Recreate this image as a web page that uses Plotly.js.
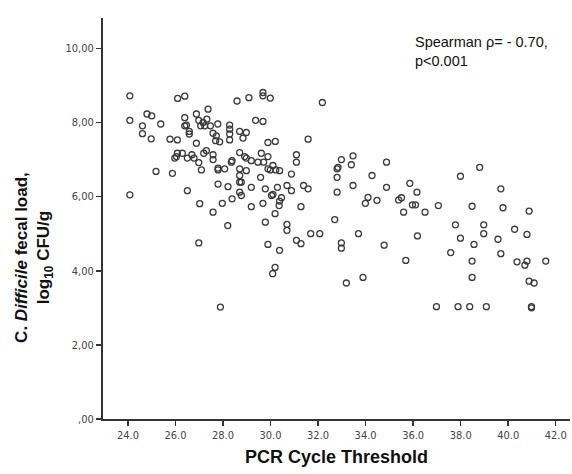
<!DOCTYPE html>
<html>
<head>
<meta charset="utf-8">
<script src="https://cdn.plot.ly/plotly-3.0.1.min.js"></script>
<style>
html,body{margin:0;padding:0;background:#fff;}
#chart{width:572px;height:474px;}
</style>
</head>
<body>
<div id="chart"></div>
<script>
// PCR cycle threshold (x) for each sample
const ctValues = [
24.08,24.08,24.08,24.80,25.00,24.61,24.61,24.98,25.38,25.18,
26.09,26.39,25.77,26.08,25.87,26.39,26.39,26.46,26.58,26.58,
26.88,26.98,27.06,27.16,27.23,27.37,27.32,26.88,27.30,27.19,
26.98,27.09,26.69,26.50,26.78,26.08,26.29,25.97,26.04,26.50,
27.47,27.78,27.58,27.72,27.69,27.86,28.59,29.09,29.68,29.68,
29.99,28.28,28.28,28.28,28.28,28.70,28.98,28.84,29.37,29.68,
29.89,30.20,31.58,27.58,27.58,27.79,27.79,28.07,28.38,28.35,
28.70,28.91,28.98,29.19,29.47,29.61,29.71,29.89,30.10,29.89,
29.99,30.22,30.38,28.70,28.98,28.70,28.70,28.77,27.79,28.21,
29.58,29.19,29.78,30.29,30.69,30.88,31.09,31.09,31.39,31.58,
28.70,28.77,28.38,30.04,30.46,30.88,
27.02,27.58,27.97,29.19,29.68,30.10,30.38,30.36,30.19,29.78,
28.20,30.69,30.69,31.28,31.69,31.09,31.28,29.89,30.38,30.19,
30.09,27.89,26.98,32.07,
32.18,32.98,33.47,33.40,32.84,32.80,32.80,34.27,34.88,33.47,
32.80,35.86,36.16,34.88,34.10,33.99,34.48,35.39,35.51,35.97,
36.10,35.60,36.50,37.06,32.70,
33.70,32.98,32.98,34.78,36.18,35.69,33.89,33.19,36.98,
38.80,37.99,39.69,38.48,39.78,40.88,37.78,38.97,37.99,38.97,
38.56,39.57,40.27,40.79,37.58,39.69,
38.48,40.37,40.70,40.79,41.58,38.48,40.88,41.09,37.89,38.38,
39.08,40.98,40.98
];
// C. difficile fecal load, log10 CFU/g
const loadValues = [
8.72,8.06,6.05,8.23,8.18,7.91,7.70,7.56,7.96,6.68,
8.65,8.71,7.55,7.53,6.63,8.13,7.91,7.93,7.76,7.69,
8.23,8.06,7.91,8.00,7.91,8.36,8.09,7.44,7.24,7.17,
6.92,6.72,7.13,7.04,7.04,7.17,7.17,7.04,7.08,6.16,
7.91,7.96,7.71,7.64,7.51,7.48,8.58,8.67,8.81,8.72,
8.66,7.93,7.82,7.69,7.53,7.76,7.73,7.58,8.06,8.03,
7.46,7.49,7.55,7.13,7.00,6.77,6.72,6.75,6.97,6.93,
7.19,7.08,7.04,6.97,6.93,7.17,6.93,7.08,6.84,6.75,
6.72,6.72,6.70,6.75,6.70,6.57,6.39,6.39,6.34,6.27,
6.52,6.25,6.21,6.25,6.30,6.61,7.13,6.93,6.30,6.21,
6.12,6.03,5.94,6.03,5.97,6.16,
5.81,5.58,5.82,5.73,5.82,6.06,5.88,5.76,5.54,5.31,
5.22,5.25,5.09,5.73,5.00,4.82,4.73,4.71,4.55,4.09,
3.92,3.02,4.75,5.00,
8.54,7.00,7.10,6.86,6.79,6.75,6.52,6.57,6.93,6.30,
6.12,6.36,6.12,6.25,5.98,5.82,5.90,5.91,5.97,5.78,
5.78,5.58,5.58,5.76,5.38,
5.00,4.75,4.61,4.69,4.94,4.28,3.82,3.67,3.03,
6.79,6.55,6.21,5.74,5.70,5.61,5.24,5.24,4.88,5.00,
4.71,4.85,5.12,4.98,4.49,4.46,
4.26,4.24,4.15,4.26,4.26,3.82,3.72,3.67,3.03,3.03,
3.03,3.03,3.00
];

const xTickVals = [24,26,28,30,32,34,36,38,40,42];
const xTickText = ["24.0","26.0","28.0","30.0","32.0","34.0","36.0","38.0","40.0","42.0"];
const yTickVals = [0,2,4,6,8,10];
const yTickText = [",00","2,00","4,00","6,00","8,00","10,00"];

const tickFont = {family:"'Liberation Sans Narrow','DejaVu Sans Condensed',sans-serif", size:11, color:"#444"};

const trace = {
  x: ctValues,
  y: loadValues,
  type: "scatter",
  mode: "markers",
  marker: {symbol:"circle-open", size:6, color:"#3a3a3a", line:{width:1.3}},
  hoverinfo: "x+y"
};

const layout = {
  width: 572, height: 474,
  margin: {l:103, r:2, t:18, b:55},
  paper_bgcolor: "#fff", plot_bgcolor: "#fff",
  showlegend: false,
  xaxis: {
    range: [22.95, 42.6],
    tickvals: xTickVals, ticktext: xTickText,
    showline: true, linecolor: "#333", linewidth: 2,
    ticks: "outside", ticklen: 5, tickwidth: 1.5, tickcolor: "#333",
    showgrid: false, zeroline: false, tickfont: tickFont
  },
  yaxis: {
    range: [0, 10.82],
    tickvals: yTickVals, ticktext: yTickText,
    showline: true, linecolor: "#333", linewidth: 2,
    ticks: "outside", ticklen: 5, tickwidth: 1.5, tickcolor: "#333",
    showgrid: false, zeroline: false, tickfont: tickFont
  },
  annotations: [
    {
      xref:"paper", yref:"paper", x:0.664, y:0.965, xanchor:"left", yanchor:"top",
      align:"left", showarrow:false,
      text:"Spearman ρ= - 0.70,<br>p<0.001",
      font:{family:"'Liberation Sans',Arial,sans-serif", size:14.5, color:"#111"}
    },
    {
      xref:"paper", yref:"paper", x:0.5, y:-0.094, xanchor:"center", yanchor:"middle",
      showarrow:false, text:"<b>PCR Cycle Threshold</b>",
      font:{family:"'Liberation Sans',Arial,sans-serif", size:18, color:"#111"}
    },
    {
      xref:"paper", yref:"paper", x:-0.148, y:0.404, xanchor:"center", yanchor:"middle",
      showarrow:false, textangle:-90, align:"center",
      text:"<b>C. <i>Difficile</i> fecal load,<br>log<sub>10</sub> CFU/g</b>",
      font:{family:"'Liberation Sans',Arial,sans-serif", size:17, color:"#111"}
    }
  ]
};

Plotly.newPlot("chart", [trace], layout, {displayModeBar:false, staticPlot:true});
</script>
</body>
</html>
